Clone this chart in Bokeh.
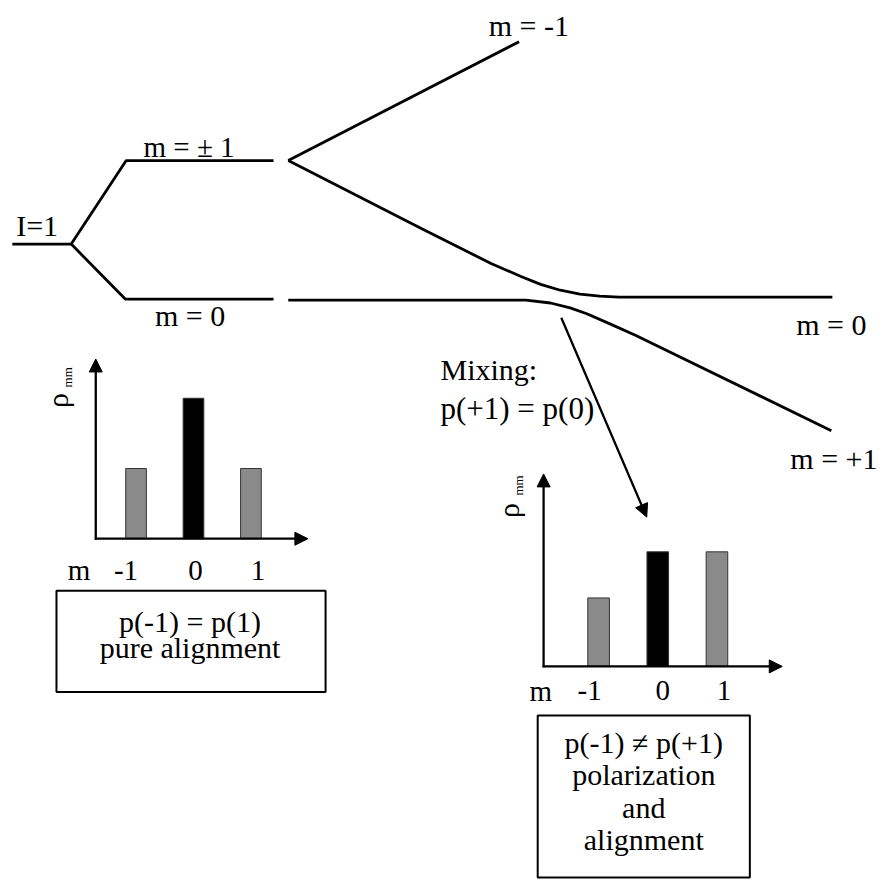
import math
from bokeh.plotting import figure
from bokeh.models import Range1d, Arrow, NormalHead, ColumnDataSource
from bokeh.core.properties import value
from bokeh.embed import file_html
from bokeh.resources import INLINE

# ---------------- data ----------------
m_values = [-1, 0, 1]
m_tick_labels = ["-1", "0", "1"]
pop_alignment = [0.25, 0.50, 0.25]          # p(-1) = p(1): pure alignment
pop_mixed = [0.23, 0.385, 0.385]             # p(+1) = p(0) after mixing
bar_colors = ["#8a8a8a", "#000000", "#8a8a8a"]

# energy-level curves (reference pixels)
I_level_x = [12, 72]
I_level_y = [248, 248]
pm1_branch_x = [72, 128, 278]
pm1_branch_y = [248, 163, 163]
m0_branch_x = [72, 127, 278]
m0_branch_y = [248, 304, 304]
m_minus1_x = [293, 528]
m_minus1_y = [163, 42]
m_zero_x = [293, 430, 500, 530, 550, 570, 590, 610, 630, 847]
m_zero_y = [163, 233, 268, 281, 289, 295, 299, 301, 302, 302]
m_plus1_x = [293, 535, 560, 580, 597, 620, 647, 846]
m_plus1_y = [305, 305, 308, 313, 319, 329, 341, 438]

# ---------------- layout ----------------
W_REF, H_REF = 894, 896
FONT = value("Liberation Serif")
TDY = -10   # baseline correction for rendered text


def px_range(v0, p0, v1, p1, lo, hi):
    k = (p1 - p0) / (v1 - v0)
    return Range1d(start=v0 + (lo - p0) / k, end=v0 + (hi - p0) / k)


p = figure(width=878, height=880,
           x_range=Range1d(0, W_REF), y_range=Range1d(H_REF, 0),
           output_backend="svg", toolbar_location=None, min_border=0)
p.axis.visible = False
p.grid.visible = False
p.outline_line_color = None
p.background_fill_color = "white"
p.border_fill_color = "white"

p.extra_x_ranges = {"lx": px_range(-1, 138, 1, 255, 0, W_REF),
                    "rx": px_range(-1, 609, 1, 729.5, 0, W_REF)}
p.extra_y_ranges = {"ly": px_range(0, 548, 0.5, 405, H_REF, 0),
                    "ry": px_range(0, 678, 1, 375, H_REF, 0)}

LW = 2.8
for xs, ys in [(I_level_x, I_level_y), (pm1_branch_x, pm1_branch_y),
               (m0_branch_x, m0_branch_y), (m_minus1_x, m_minus1_y),
               (m_zero_x, m_zero_y), (m_plus1_x, m_plus1_y)]:
    p.line(xs, ys, line_color="black", line_width=LW, line_join="round")


def label(x, y, t, size=30, align="left", angle=0.0):
    if angle:
        x = x + TDY
    else:
        y = y + TDY
    p.text(x=[x], y=[y], text=[t], text_font=FONT, text_font_size=f"{size}px",
           text_align=align, text_baseline="alphabetic", text_color="black", angle=angle)


# level labels
label(16, 239, "I=1")
label(192, 159, "m = ± 1", 29, "center")
label(193, 331, "m = 0", 30, "center")
label(538, 35, "m = -1", 30, "center")
label(846, 340, "m = 0", 30, "center")
label(893, 476, "m = +1", 30, "right")
label(448, 386, "Mixing:", 30)
label(448, 425, "p(+1) = p(0)", 31)


def head():
    return NormalHead(size=13, fill_color="black", line_color="black", line_width=1)


# mixing arrow
p.add_layout(Arrow(end=head(), x_start=571, y_start=323, x_end=658, y_end=526,
                   line_width=2.3, line_color="black"))

# ---------- left population chart ----------
src_l = ColumnDataSource(dict(m=m_values, pop=pop_alignment, c=bar_colors,
                              lab=m_tick_labels, off=[-10, 2, 7]))
p.vbar(x="m", top="pop", bottom=0, width=0.36, fill_color="c", line_color="#333333",
       line_width=1, source=src_l, x_range_name="lx", y_range_name="ly")
p.add_layout(Arrow(end=head(), x_start=97, y_start=549, x_end=97, y_end=365,
                   line_width=2.3, line_color="black"))
p.add_layout(Arrow(end=head(), x_start=96, y_start=548, x_end=313, y_end=548,
                   line_width=2.3, line_color="black"))
p.text(x="m", y=590 + TDY, text="lab", x_offset="off", source=src_l, x_range_name="lx",
       text_font=FONT, text_font_size="29px", text_align="center",
       text_baseline="alphabetic", text_color="black")
label(80, 590, "m", 29, "center")
label(68, 415, "ρ", 30, "left", math.pi / 2)
label(78, 394, "mm", 13, "left", math.pi / 2)
p.quad(left=57, right=331, top=601, bottom=704, fill_color=None,
       line_color="black", line_width=2)
label(193, 642, "p(-1) = p(1)", 30, "center")
label(193, 669, "pure alignment", 30, "center")

# ---------- right population chart ----------
src_r = ColumnDataSource(dict(m=m_values, pop=pop_mixed, c=bar_colors,
                              lab=m_tick_labels, off=[-9, 5, 7]))
p.vbar(x="m", top="pop", bottom=0, width=0.365, fill_color="c", line_color="#333333",
       line_width=1, source=src_r, x_range_name="rx", y_range_name="ry")
p.add_layout(Arrow(end=head(), x_start=553, y_start=679, x_end=553, y_end=482,
                   line_width=2.3, line_color="black"))
p.add_layout(Arrow(end=head(), x_start=552, y_start=678, x_end=796, y_end=678,
                   line_width=2.3, line_color="black"))
p.text(x="m", y=713 + TDY, text="lab", x_offset="off", source=src_r, x_range_name="rx",
       text_font=FONT, text_font_size="29px", text_align="center",
       text_baseline="alphabetic", text_color="black")
label(550, 713, "m", 29, "center")
label(527, 527, "ρ", 30, "left", math.pi / 2)
label(537, 504, "mm", 13, "left", math.pi / 2)
p.quad(left=547, right=763, top=728, bottom=893, fill_color=None,
       line_color="black", line_width=2)
label(655, 765, "p(-1) ≠ p(+1)", 30, "center")
label(655, 798, "polarization", 30, "center")
label(655, 832, "and", 30, "center")
label(655, 864, "alignment", 30, "center")

open("out.html", "w").write(file_html(p, INLINE))
